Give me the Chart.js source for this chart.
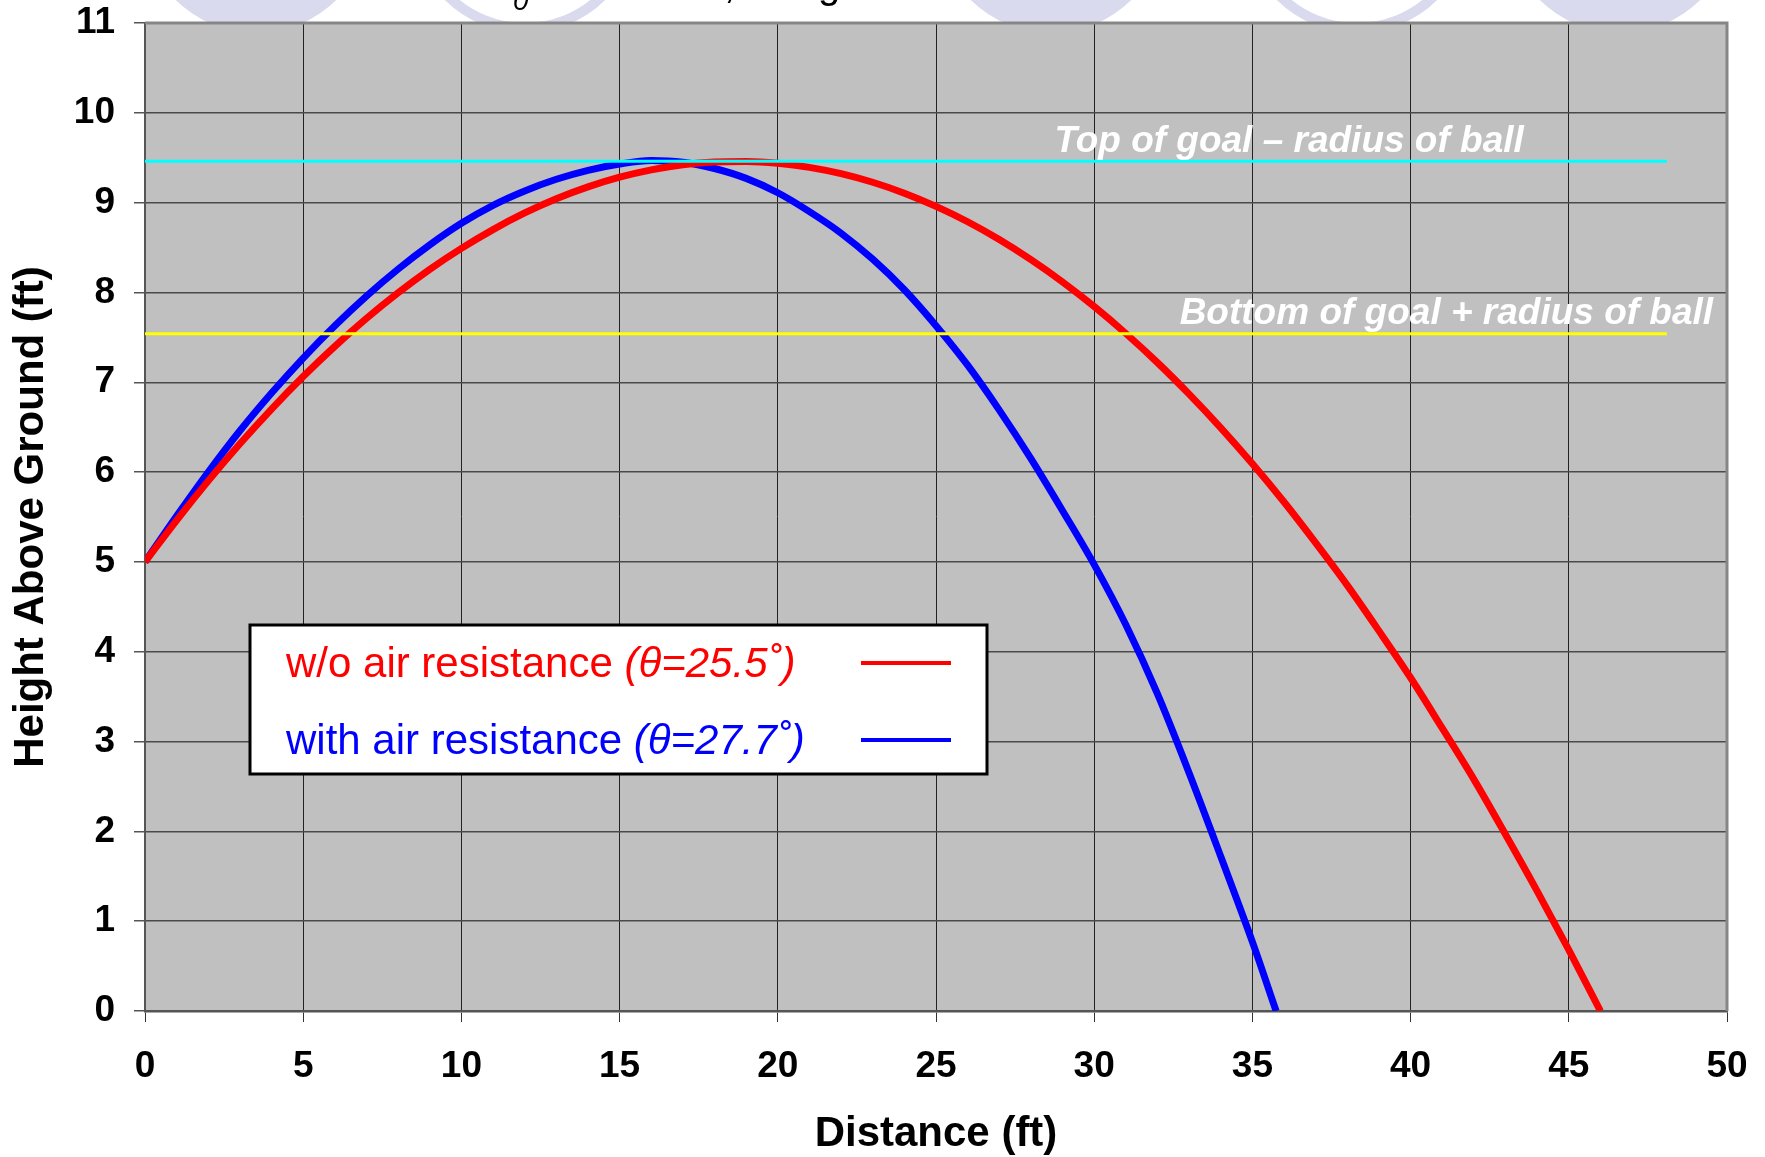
<!DOCTYPE html>
<html><head><meta charset="utf-8">
<script src="https://cdn.jsdelivr.net/npm/chart.js@4.4.1/dist/chart.umd.min.js"></script>
<style>html,body{margin:0;padding:0;background:#fff;overflow:hidden}#wrap{width:1765px;height:1157px;position:relative}</style>
</head><body><div id="wrap"><canvas id="c" width="1765" height="1157"></canvas></div>
<script>
// ---- data ----
const distNoAir = [0,1,2,3,4,5,6,7,8,9,10,11,12,13,14,15,16,17,18,19,20,21,22,23,24,25,26,27,28,29,30,31,32,33,34,35,36,37,38,39,40,41,42,43,44,45,46];
const heightNoAir = [5.000,5.463,5.902,6.315,6.702,7.064,7.400,7.711,7.996,8.257,8.491,8.700,8.885,9.043,9.175,9.283,9.365,9.422,9.453,9.459,9.439,9.393,9.323,9.227,9.105,8.958,8.787,8.589,8.365,8.117,7.843,7.543,7.219,6.868,6.493,6.093,5.667,5.212,4.739,4.232,3.710,3.149,2.579,1.965,1.335,0.680,0];
const distAir = [0,1,2,3,4,5,6,7,8,9,10,11,12,13,14,15,16,17,18,19,20,21,22,23,24,25,26,27,28,29,30,31,32,33,34,35,35.75];
const heightAir = [5.00,5.51,6.00,6.46,6.88,7.27,7.63,7.96,8.26,8.53,8.77,8.97,9.13,9.26,9.36,9.43,9.47,9.45,9.38,9.27,9.11,8.90,8.66,8.37,8.03,7.63,7.19,6.69,6.15,5.57,4.97,4.30,3.53,2.65,1.72,0.77,0];
const goalLineDist = [0, 48.1];
const goalTopHeight = [9.46, 9.46];
const goalBottomHeight = [7.54, 7.54];
const seriesNames = ['w/o air resistance ', 'with air resistance '];
const seriesAngles = ['(\u03B8=25.5\u02DA)', '(\u03B8=27.7\u02DA)'];
const goalLabels = ['Top of goal \u2013 radius of ball', 'Bottom of goal + radius of ball'];
const xTitle = 'Distance (ft)';
const yTitle = 'Height Above Ground (ft)';

const FONT = "'Liberation Sans', Arial, sans-serif";
const toXY = (xs, ys) => xs.map((x, i) => ({x: x, y: ys[i]}));

const decoPlugin = {
  id: 'deco',
  beforeDraw(chart) {
    const ctx = chart.ctx, a = chart.chartArea;
    ctx.save();
    ctx.fillStyle = '#ffffff';
    ctx.fillRect(0, 0, chart.width, chart.height);
    // lavender background shapes peeking above the plot
    ctx.fillStyle = '#dadaee';
    ctx.strokeStyle = '#dadaee';
    ctx.lineWidth = 10;
    const shapes = [[256, 'f'], [525, 'r'], [1051, 'f'], [1357, 'r'], [1620, 'f']];
    shapes.forEach(([cx, t]) => {
      ctx.beginPath();
      ctx.arc(cx, -81, t === 'f' ? 114 : 109, 0, Math.PI * 2);
      if (t === 'f') ctx.fill(); else ctx.stroke();
    });
    // clipped title fragments
    ctx.fillStyle = '#000';
    ctx.textBaseline = 'alphabetic';
    ctx.font = 'italic 28px ' + FONT;
    ctx.fillText('0', 513, 10);
    ctx.font = '40px ' + FONT;
    ctx.fillText(',', 724, -2);
    ctx.fillText('g', 818, -2);
    // plot background
    ctx.fillStyle = '#c0c0c0';
    ctx.fillRect(a.left, a.top, a.right - a.left, a.bottom - a.top);
    ctx.restore();
  },
  afterDatasetsDraw(chart) {
    const ctx = chart.ctx, a = chart.chartArea;
    const xs = chart.scales.x, ys = chart.scales.y;
    ctx.save();
    // plot border top/right
    ctx.strokeStyle = '#868686';
    ctx.lineWidth = 3;
    ctx.beginPath();
    ctx.moveTo(a.left, a.top);
    ctx.lineTo(a.right, a.top);
    ctx.lineTo(a.right, a.bottom);
    ctx.stroke();
    // goal labels
    ctx.fillStyle = '#ffffff';
    ctx.font = 'italic bold 37px ' + FONT;
    ctx.textBaseline = 'alphabetic';
    ctx.textAlign = 'center';
    ctx.fillText(goalLabels[0], xs.getPixelForValue(36.16), ys.getPixelForValue(9.566));
    ctx.textAlign = 'right';
    ctx.fillText(goalLabels[1], xs.getPixelForValue(49.56), ys.getPixelForValue(7.65));
    // legend box
    const lx = a.left + 105, ly = a.top + 602, lw = 737, lh = 149;
    ctx.fillStyle = '#ffffff';
    ctx.fillRect(lx, ly, lw, lh);
    ctx.strokeStyle = '#000';
    ctx.lineWidth = 3;
    ctx.strokeRect(lx, ly, lw, lh);
    const colors = ['#ff0000', '#0000ff'];
    const baselines = [ly + 52, ly + 129];
    const lineYs = [ly + 38, ly + 115];
    ctx.textAlign = 'left';
    for (let i = 0; i < 2; i++) {
      ctx.fillStyle = colors[i];
      ctx.font = '42px ' + FONT;
      ctx.fillText(seriesNames[i], lx + 36, baselines[i]);
      const w = ctx.measureText(seriesNames[i]).width;
      ctx.font = 'italic 42px ' + FONT;
      ctx.fillText(seriesAngles[i], lx + 36 + w, baselines[i]);
      ctx.strokeStyle = colors[i];
      ctx.lineWidth = 4;
      ctx.beginPath();
      ctx.moveTo(lx + 611, lineYs[i]);
      ctx.lineTo(lx + 701, lineYs[i]);
      ctx.stroke();
    }
    ctx.restore();
  }
};

new Chart(document.getElementById('c'), {
  type: 'line',
  data: {
    datasets: [
      {data: toXY(goalLineDist, goalTopHeight), borderColor: '#00ffff', borderWidth: 3, pointRadius: 0, order: 0, tension: 0},
      {data: toXY(goalLineDist, goalBottomHeight), borderColor: '#ffff00', borderWidth: 3, pointRadius: 0, order: 0, tension: 0},
      {data: toXY(distNoAir, heightNoAir), borderColor: '#ff0000', borderWidth: 7, pointRadius: 0, order: 1, cubicInterpolationMode: 'monotone'},
      {data: toXY(distAir, heightAir), borderColor: '#0000ff', borderWidth: 7, pointRadius: 0, order: 2, cubicInterpolationMode: 'monotone'}
    ]
  },
  options: {
    responsive: false,
    devicePixelRatio: 1,
    animation: false,
    layout: {padding: {top: 23, right: 38, left: 0, bottom: 0}},
    plugins: {legend: {display: false}, tooltip: {enabled: false}},
    scales: {
      x: {
        type: 'linear', min: 0, max: 50,
        ticks: {stepSize: 5, color: '#000', padding: 23, font: {family: FONT, size: 37, weight: 'bold'}},
        grid: {color: '#222', lineWidth: 1, tickLength: 11, tickColor: '#333'},
        border: {color: '#555', width: 2.5},
        title: {display: true, text: xTitle, color: '#000', font: {family: FONT, size: 42, weight: 'bold', lineHeight: 1}, padding: {top: 0, bottom: 2}},
        afterFit(s) { s.height = 146; s.paddingLeft = 0; s.paddingRight = 0; }
      },
      y: {
        min: 0, max: 11,
        ticks: {stepSize: 1, color: '#000', padding: 19, font: {family: FONT, size: 37, weight: 'bold'}},
        grid: {color: '#4a4a4a', lineWidth: 1.5, tickLength: 11, tickColor: '#555'},
        border: {color: '#555', width: 2},
        title: {display: true, text: yTitle, color: '#000', font: {family: FONT, size: 42, weight: 'bold', lineHeight: 1}, padding: {top: 10, bottom: 0}},
        afterFit(s) { s.width = 145; s.paddingTop = 0; s.paddingBottom = 0; }
      }
    }
  },
  plugins: [decoPlugin]
});
</script></body></html>
